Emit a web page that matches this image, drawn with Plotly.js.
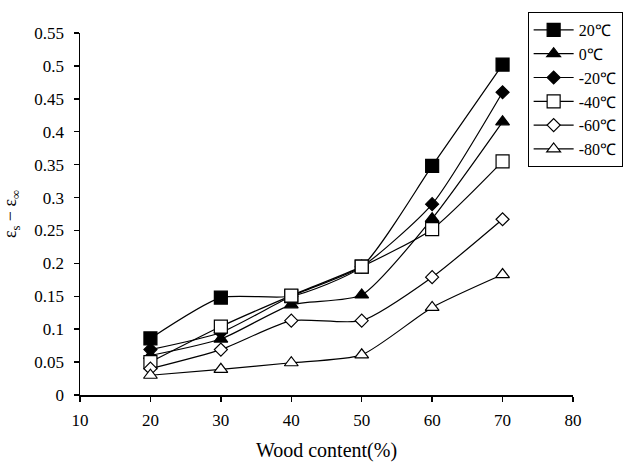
<!DOCTYPE html>
<html>
<head>
<meta charset="utf-8">
<script src="https://cdn.plot.ly/plotly-3.0.1.min.js"></script>
<style>html,body{margin:0;padding:0;background:#fff;}#chart{width:627px;height:464px;}</style>
</head>
<body>
<div id="chart"></div>
<script>
const woodContent = [20, 30, 40, 50, 60, 70];
const seriesNames = ["20\u2103", "0\u2103", "-20\u2103", "-40\u2103", "-60\u2103", "-80\u2103"];
const t20  = [0.086, 0.148, 0.150, 0.195, 0.348, 0.502];
const t0   = [0.060, 0.085, 0.137, 0.152, 0.268, 0.415];
const tm20 = [0.069, 0.095, 0.150, 0.195, 0.290, 0.460];
const tm40 = [0.050, 0.104, 0.151, 0.195, 0.252, 0.355];
const tm60 = [0.040, 0.069, 0.113, 0.113, 0.179, 0.267];
const tm80 = [0.030, 0.039, 0.049, 0.061, 0.133, 0.183];
const xTicks = [10, 20, 30, 40, 50, 60, 70, 80];
const yTicks = [0, 0.05, 0.1, 0.15, 0.2, 0.25, 0.3, 0.35, 0.4, 0.45, 0.5, 0.55];
const yTickText = ["0", "0.05", "0.1", "0.15", "0.2", "0.25", "0.3", "0.35", "0.4", "0.45", "0.5", "0.55"];

const seriesData = [t20, t0, tm20, tm40, tm60, tm80];
const markerStyles = [
  {symbol: "square", size: 13, color: "#000"},
  {symbol: "triangle-up", size: 12, color: "#000"},
  {symbol: "diamond", size: 10, color: "#000"},
  {symbol: "square", size: 13, color: "#fff"},
  {symbol: "diamond", size: 10, color: "#fff"},
  {symbol: "triangle-up", size: 12, color: "#fff"}
];

const traces = seriesData.map((ys, i) => ({
  x: woodContent, y: ys, name: seriesNames[i], type: "scatter", mode: "lines+markers",
  line: {color: "#000", width: 1.2, shape: "spline", smoothing: 0.6},
  marker: {symbol: markerStyles[i].symbol, size: markerStyles[i].size, color: markerStyles[i].color,
           line: {color: "#000", width: 1.2}},
  cliponaxis: false
}));

const FAM = "Liberation Serif";

const layout = {
  width: 627, height: 464,
  paper_bgcolor: "#fff", plot_bgcolor: "#fff",
  margin: {l: 80, r: 54, t: 33, b: 69, autoexpand: false},
  font: {family: FAM, size: 16, color: "#000"},
  showlegend: true,
  legend: {
    x: 0.908, y: 1.058, xanchor: "left", yanchor: "top",
    bordercolor: "#000", borderwidth: 1, bgcolor: "#fff",
    font: {family: FAM, size: 16, color: "#000"},
    itemwidth: 40, tracegroupgap: 0
  },
  xaxis: {
    range: [10, 80], tickvals: xTicks, ticktext: xTicks.map(String),
    showgrid: false, zeroline: false, showline: true, linecolor: "#000", linewidth: 1.5,
    ticks: "outside", ticklen: 5, tickwidth: 1.5, tickcolor: "#000",
    ticklabelstandoff: 4,
    tickfont: {family: FAM, size: 17, color: "#000"},
    title: {text: "Wood content(%)", font: {family: FAM, size: 20, color: "#000"}, standoff: 14}
  },
  yaxis: {
    range: [0, 0.55], tickvals: yTicks, ticktext: yTickText,
    showgrid: false, zeroline: false, showline: true, linecolor: "#000", linewidth: 1.5,
    ticks: "outside", ticklen: 5, tickwidth: 1.5, tickcolor: "#000",
    ticklabelstandoff: 6,
    tickfont: {family: FAM, size: 17, color: "#000"},
    title: {text: "\u03b5<sub>s</sub> \u2212 \u03b5<sub>\u221e</sub>", font: {family: FAM, size: 18, color: "#000"}, standoff: 14}
  }
};

Plotly.newPlot("chart", traces, layout, {displayModeBar: false, staticPlot: true});
</script>
</body>
</html>
